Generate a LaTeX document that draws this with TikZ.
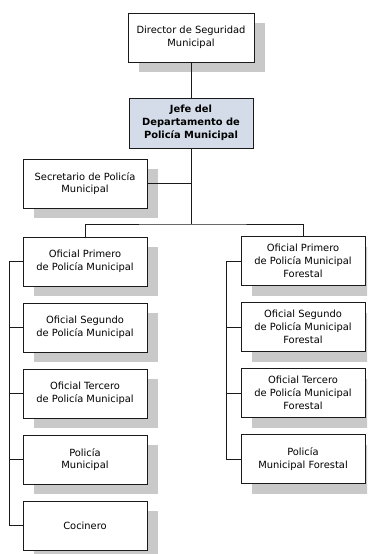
\documentclass[tikz,border=0pt]{standalone}
\usepackage{fontspec}
\setmainfont{DejaVu Sans}
\usetikzlibrary{shadows}
\definecolor{shadowgray}{HTML}{C9C9C9}
\definecolor{jefefill}{HTML}{D3DCE8}
\definecolor{linegray}{HTML}{1A1A1A}
\tikzset{
  orgbox/.style={draw=linegray, line width=0.9pt, fill=white, minimum width=124pt, minimum height=49pt,
    inner sep=0pt, align=center, font=\fontsize{9.9}{12.8}\selectfont,
    general shadow={fill=shadowgray, shadow xshift=10.5pt, shadow yshift=-10pt}},
  jefebox/.style={draw=linegray, line width=0.9pt, fill=jefefill, minimum width=124pt, minimum height=50pt,
    inner sep=0pt, align=center, font=\fontsize{9.9}{12.8}\selectfont\bfseries},
  conn/.style={draw=linegray, line width=0.9pt}
}
\begin{document}
\begin{tikzpicture}[x=1pt, y=-1pt]
\useasboundingbox (0,0) rectangle (367,554);
\clip (0,0) rectangle (367,554);
\fill[white] (0,0) rectangle (367,554);

\node[orgbox, minimum width=126pt] (dir) at (191,37.5) {Director de Seguridad\\Municipal};
\node[jefebox] (jefe) at (191,123) {Jefe del\\Departamento de\\Polic\'ia Municipal};
\node[orgbox] (sec) at (85,183.5) {Secretario de Polic\'ia\\Municipal};

\node[orgbox] (l1) at (85,261.5) {Oficial Primero\\de Polic\'ia Municipal};
\node[orgbox] (l2) at (85,327.5) {Oficial Segundo\\de Polic\'ia Municipal};
\node[orgbox] (l3) at (85,393.5) {Oficial Tercero\\de Polic\'ia Municipal};
\node[orgbox] (l4) at (85,459.5) {Polic\'ia\\Municipal};
\node[orgbox] (l5) at (85,525.5) {Cocinero};

\node[orgbox] (r1) at (303,261) {Oficial Primero\\de Polic\'ia Municipal\\Forestal};
\node[orgbox] (r2) at (303,327) {Oficial Segundo\\de Polic\'ia Municipal\\Forestal};
\node[orgbox] (r3) at (303,393) {Oficial Tercero\\de Polic\'ia Municipal\\Forestal};
\node[orgbox] (r4) at (303,459) {Polic\'ia\\Municipal Forestal};

\coordinate (bar) at (191,224);
\coordinate (secj) at (191,183.5);

\draw[conn] (dir.south) -- (jefe.north);
\draw[conn] (jefe.south) -- (bar);
\draw[conn] (sec.east) -- (secj);
\draw[conn] (l1.north) |- (bar) -| (r1.north);

\draw[conn] (l1.west) -- ++(-13,0) |- (l5.west);
\draw[conn] (l2.west) -- ++(-13,0);
\draw[conn] (l3.west) -- ++(-13,0);
\draw[conn] (l4.west) -- ++(-13,0);

\draw[conn] (r1.west) -- ++(-14,0) |- (r4.west);
\draw[conn] (r2.west) -- ++(-14,0);
\draw[conn] (r3.west) -- ++(-14,0);
\end{tikzpicture}
\end{document}
